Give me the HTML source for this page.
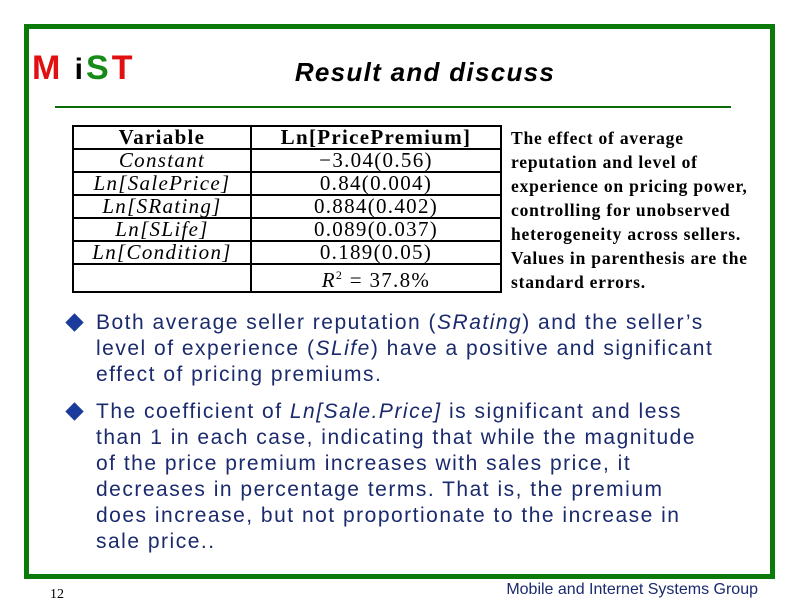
<!DOCTYPE html>
<html><head><meta charset="utf-8"><style>
body{margin:0;width:792px;height:612px;background:#fff;position:relative;overflow:hidden;font-family:"Liberation Sans",sans-serif}
.a{position:absolute}
.frame{left:24px;top:24px;width:741px;height:545px;border:5px solid #0b7a0b;box-sizing:content-box}
.title{left:170px;width:510px;top:57px;text-align:center;font-size:26px;font-style:italic;font-weight:bold;color:#000;letter-spacing:1.3px}
.rule{left:55px;top:106px;width:676px;height:2px;background:#0b6b0b}
table{position:absolute;left:72px;top:125px;border-collapse:collapse;font-family:"Liberation Serif",serif;font-size:21px;letter-spacing:1.3px}
td{border:2px solid #000;height:21px;padding:0 4px;text-align:center;line-height:21px}
td.v{width:168px;font-style:italic}
td.p{width:240px}
.side{left:511px;top:126px;white-space:nowrap;font-family:"Liberation Serif",serif;font-weight:bold;font-size:17.5px;line-height:24px;color:#000;letter-spacing:0.8px}
.bl{font-size:21px;color:#1a2a6c;line-height:26px;left:96px;width:690px;letter-spacing:1.5px}
.dia{width:13px;height:13px;background:#1a3a9c;transform:rotate(45deg)}
</style></head><body>
<div class="a frame"></div>
<div class="a" style="left:32px;top:49px;font-size:34px;font-weight:bold;letter-spacing:3px">
<span style="color:#e01010">M</span><span style="color:#000;font-size:30px"> i</span><span style="color:#178a17">S</span><span style="color:#e01010">T</span></div>
<div class="a title">Result and discuss</div>
<div class="a rule"></div>
<table>
<tr><td class="v" style="font-style:normal;font-weight:bold">Variable</td><td class="p" style="font-weight:bold">Ln[PricePremium]</td></tr>
<tr><td class="v">Constant</td><td class="p">−3.04(0.56)</td></tr>
<tr><td class="v">Ln[SalePrice]</td><td class="p">0.84(0.004)</td></tr>
<tr><td class="v">Ln[SRating]</td><td class="p">0.884(0.402)</td></tr>
<tr><td class="v">Ln[SLife]</td><td class="p">0.089(0.037)</td></tr>
<tr><td class="v">Ln[Condition]</td><td class="p">0.189(0.05)</td></tr>
<tr><td class="v"></td><td class="p"><i>R</i><sup style="font-size:12px">2</sup> = 37.8%</td></tr>
</table>
<div class="a side">The effect of average<br>reputation and level of<br>experience on pricing power,<br>controlling for unobserved<br>heterogeneity across sellers.<br>Values in parenthesis are the<br>standard errors.</div>
<div class="a dia" style="left:68px;top:316px"></div>
<div class="a bl" style="top:310px">Both average seller reputation (<i>SRating</i>) and the seller’s<br>level of experience (<i>SLife</i>) have a positive and significant<br>effect of pricing premiums.</div>
<div class="a dia" style="left:68px;top:405px"></div>
<div class="a bl" style="top:399px">The coefficient of <i>Ln[Sale.Price]</i> is significant and less<br>than 1 in each case, indicating that while the magnitude<br>of the price premium increases with sales price, it<br>decreases in percentage terms. That is, the premium<br>does increase, but not proportionate to the increase in<br>sale price..</div>
<div class="a" style="left:50px;top:587px;font-family:'Liberation Serif',serif;font-size:14px">12</div>
<div class="a" style="right:34px;top:581px;font-size:16px;color:#1a2a6c">Mobile and Internet Systems Group</div>
</body></html>
